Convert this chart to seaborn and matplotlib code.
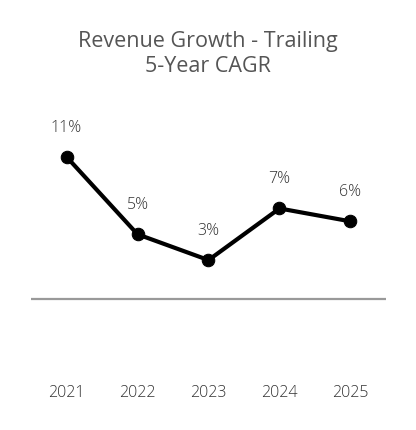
import matplotlib
matplotlib.use("Agg")
import matplotlib.pyplot as plt
import seaborn as sns
import pandas as pd

# ── Data ────────────────────────────────────────────────
years = ["2021", "2022", "2023", "2024", "2025"]
cagr = [11, 5, 3, 7, 6]
labels = ["11%", "5%", "3%", "7%", "6%"]

df = pd.DataFrame({"year": years, "cagr": cagr})

# ── Plot ────────────────────────────────────────────────
sns.set_style("white")
plt.rcParams["font.family"] = ["Open Sans", "DejaVu Sans"]

fig = plt.figure(figsize=(4.16, 4.30), dpi=100)
ax = fig.add_axes([31 / 416, (430 - 375) / 430, 355 / 416, 275 / 430])

ax.axhline(0, color="#999999", lw=1.6, zorder=1)
sns.lineplot(data=df, x="year", y="cagr", ax=ax, color="black", lw=3,
             marker="o", markersize=9, markeredgecolor="black", zorder=3)

for i, (v, lab) in enumerate(zip(cagr, labels)):
    ax.annotate(lab, (i, v), xytext=(0, 21), textcoords="offset points",
                ha="center", va="center", fontsize=11.5, color="#333333",
                fontweight="light")

ax.set_xlim(-0.5, 4.5)
ax.set_ylim(-5.9, 15.4)
ax.set_xlabel("")
ax.set_ylabel("")
ax.set_yticks([])
ax.tick_params(axis="x", length=0, pad=7, labelsize=11.5, labelcolor="#333333")
for t in ax.get_xticklabels():
    t.set_fontweight("light")
sns.despine(ax=ax, left=True, bottom=True)

fig.text(0.5, 1 - 54 / 430, "Revenue Growth - Trailing\n5-Year CAGR",
         ha="center", va="center", fontsize=15.5, color="#555555",
         linespacing=1.3)

fig.savefig("out.png", dpi=100)
